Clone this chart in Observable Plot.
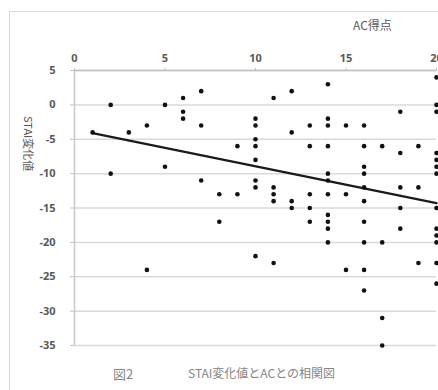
<!DOCTYPE html>
<html>
<head>
<meta charset="utf-8">
<script src="https://cdn.jsdelivr.net/npm/d3@7"></script>
<script src="https://cdn.jsdelivr.net/npm/@observablehq/plot@0.6"></script>
<style>
  html, body { margin: 0; padding: 0; background: #fff; width: 438px; height: 390px; overflow: hidden; }
  #wrap { position: relative; width: 438px; height: 390px; font-family: "Noto Sans CJK JP", "Noto Sans", sans-serif; }
  #frame { position: absolute; left: 9px; top: 11px; width: 600px; height: 600px; border-left: 1.5px solid #d9d9d9; border-top: 1.5px solid #d9d9d9; box-sizing: border-box; }
  #chart { position: absolute; left: 0; top: 0; }
  .t { position: absolute; color: #595959; white-space: pre; }
</style>
</head>
<body>
<div id="wrap">
  <div id="frame"></div>
  <div id="chart"></div>
  <div class="t" id="xtitle" style="left:353px; top:16px; font-size:12px;">AC得点</div>
  <div class="t" id="ytitle" style="left:25px; top:136px; font-size:11px; transform-origin:0 0; transform: rotate(90deg) translate(-20px,-12px);">STAI変化値</div>
  <div class="t" style="left:113px; top:364px; font-size:13px; color:#858585;">図2</div>
  <div class="t" style="left:188px; top:364px; font-size:12px; color:#858585;">STAI変化値とACとの相関図</div>
</div>
<script>
// AC score (x) and the STAI change values observed at each score (y)
const acScores = [1, 2, 3, 4, 5, 6, 7, 8, 9, 10, 11, 12, 13, 14, 15, 16, 17, 18, 19, 20];
const staiChanges = [
  [-4],
  [0, -10],
  [-4],
  [-3, -24],
  [0, -9],
  [1, -1, -2],
  [2, -3, -11],
  [-13, -17],
  [-6, -13],
  [-2, -3, -5, -6, -8, -11, -12, -22],
  [1, -12, -13, -14, -23],
  [2, -4, -14, -15],
  [-3, -6, -13, -15, -17],
  [3, -2, -3, -6, -10, -11, -13, -16, -17, -18, -20],
  [-3, -13, -24],
  [-3, -6, -9, -10, -12, -14, -17, -20, -24, -27],
  [-6, -20, -31, -35],
  [-1, -7, -12, -15, -18],
  [-6, -12, -23],
  [4, 0, -1, -7, -8, -9, -10, -15, -18, -19, -20, -23, -26]
];
// linear trend line endpoints (as drawn in the figure)
const trendX = [1, 20];
const trendY = [-4.1, -14.3];
const xTicks = [0, 5, 10, 15, 20];
const yTicks = [5, 0, -5, -10, -15, -20, -25, -30, -35];

const points = acScores.flatMap((x, i) => staiChanges[i].map(y => ({x, y})));
const trend = trendX.map((x, i) => ({x, y: trendY[i]}));

const chart = Plot.plot({
  width: 438,
  height: 390,
  marginLeft: 74,
  marginRight: 2,
  marginTop: 70,
  marginBottom: 45,
  style: { fontFamily: "'Noto Sans', sans-serif", fontSize: "11px", color: "#595959", background: "transparent", overflow: "visible" },
  x: { domain: [0, 20] },
  y: { domain: [-35, 5] },
  marks: [
    Plot.ruleY(yTicks, { stroke: "#d9d9d9", strokeWidth: 1.5 }),
    Plot.ruleY([5], { stroke: "#bfbfbf", strokeWidth: 1.5 }),
    Plot.ruleX([0], { stroke: "#c8c8c8", strokeWidth: 1.5 }),
    Plot.axisX({ anchor: "top", ticks: xTicks, tickFormat: d => String(d), tickSize: 3, tickPadding: 6, label: null, stroke: "#bfbfbf", fill: "#595959", fontWeight: "bold" }),
    Plot.axisY({ anchor: "left", ticks: yTicks, tickFormat: d => String(d), tickSize: 4, tickPadding: 15, label: null, stroke: "#bfbfbf", fill: "#595959", fontWeight: "bold" }),
    Plot.line(trend, { x: "x", y: "y", stroke: "#1a1a1a", strokeWidth: 2.2 }),
    Plot.dot(points, { x: "x", y: "y", r: 2.3, fill: "#111", stroke: "none" })
  ]
});
document.getElementById("chart").appendChild(chart);
</script>
</body>
</html>
